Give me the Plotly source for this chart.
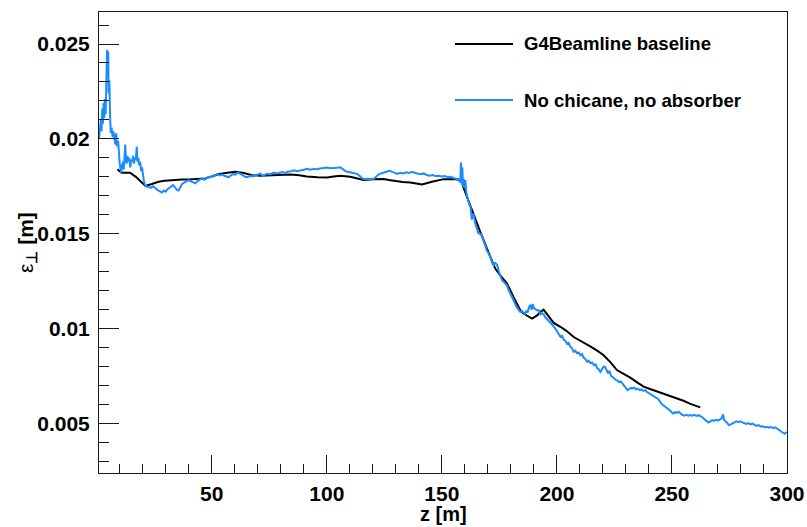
import plotly.graph_objects as go

# ---- G4Beamline baseline: transverse emittance along the channel ----
z_baseline = [9, 10.7, 14.5, 17, 19.5, 21.2, 24, 26.9, 29.5, 32.7, 37, 40, 44,
              47.2, 50, 52.8, 56, 60.2, 64, 67.5, 71.1, 76, 80, 84.1, 88, 91.4, 96, 100.1,
              103, 105.9, 110.2, 113, 116, 120.3, 124.7, 127, 130.5, 133, 136.3, 139, 141.4,
              145.7, 150.8, 156.6, 158.5, 159.5, 161, 162.4, 164.5, 166.7, 169, 171.1, 173.2,
              175.5, 178.3, 181, 184.1, 185.5, 187, 189.2, 191.4, 192.8, 194.2, 196.5, 198.6,
              201.5, 204, 207.3, 210.5, 214.5, 217.5, 220.3, 223.2, 226.1, 229, 231.9, 235,
              237.7, 240.5, 243.5, 246.5, 249.3, 252, 255, 258, 262.3]
eps_baseline = [0.0184, 0.01822, 0.01822, 0.01800, 0.01772, 0.01752,
                0.01762, 0.01774, 0.01780, 0.01784, 0.01786, 0.01786, 0.01788, 0.01792,
                0.01802, 0.01814, 0.01820, 0.01827, 0.01820, 0.01809, 0.01806, 0.01810,
                0.01812, 0.01813, 0.01808, 0.01802, 0.01798, 0.01797, 0.01802, 0.01806,
                0.01801, 0.01792, 0.01783, 0.01788, 0.01789, 0.01784, 0.01777, 0.01773,
                0.01770, 0.01764, 0.01760, 0.01774, 0.01788, 0.01788, 0.01780, 0.01740,
                0.01690, 0.01642, 0.01580, 0.01510, 0.01440, 0.01378, 0.01317, 0.01280,
                0.01238, 0.01170, 0.01097, 0.01080, 0.01068, 0.01053, 0.01070, 0.01088,
                0.01100, 0.01062, 0.01030, 0.01010, 0.00990, 0.00956, 0.00935, 0.00907,
                0.00884, 0.00860, 0.00824, 0.00782, 0.00762, 0.00742, 0.00716, 0.00695,
                0.00682, 0.00670, 0.00655, 0.00645, 0.00632, 0.00620, 0.00604, 0.00585]

# ---- No chicane, no absorber: (z [m], emittance [m]) ----
nochicane_pts = [
    (1.0, 0.0200), (1.4, 0.0206), (1.8, 0.0210), (2.1, 0.0204), (2.4, 0.0216), (2.7, 0.0208),
    (3.0, 0.0219), (3.3, 0.0211), (3.6, 0.0221), (3.9, 0.0213), (4.2, 0.0226), (4.5, 0.0247),
    (4.8, 0.0240), (5.0, 0.0246), (5.2, 0.0224), (5.5, 0.0231), (5.8, 0.0213), (6.1, 0.0203),
    (6.5, 0.0206), (6.9, 0.0201), (7.3, 0.0204), (7.7, 0.0199), (8.1, 0.0197), (8.5, 0.0203),
    (8.9, 0.0196), (9.3, 0.0199), (9.6, 0.0191), (10.0, 0.0187), (10.4, 0.0184), (10.7, 0.0182),
    (11.0, 0.0186), (11.4, 0.0188), (11.8, 0.0184), (12.1, 0.0192), (12.4, 0.0197), (12.7, 0.0189),
    (13.0, 0.0187), (13.4, 0.0191), (13.8, 0.0188), (14.2, 0.0190), (14.6, 0.0185), (15.0, 0.0189),
    (15.4, 0.0188), (15.8, 0.0191), (16.2, 0.0187), (16.6, 0.0190), (17.0, 0.0189), (17.4, 0.0196),
    (17.7, 0.0188), (18.1, 0.0190), (18.5, 0.0186), (18.9, 0.0188), (19.3, 0.0183), (19.7, 0.0185),
    (20.1, 0.0180), (20.5, 0.0178), (20.9, 0.0176), (21.4, 0.01752), (22.0, 0.01748), (22.6, 0.01746),
    (23.5, 0.01742), (24.5, 0.01750), (25.5, 0.01738), (26.5, 0.01730), (27.5, 0.01724), (28.4, 0.01718),
    (29.2, 0.01728), (30.0, 0.01722), (30.8, 0.01735), (31.6, 0.01742), (32.4, 0.01750), (33.2, 0.01756),
    (34.0, 0.01744), (34.8, 0.01732), (35.6, 0.01728), (36.3, 0.01748), (37.1, 0.01762), (38.0, 0.01770),
    (39.0, 0.01778), (40.0, 0.01783), (41.0, 0.01776), (42.0, 0.01770), (42.9, 0.01766), (43.8, 0.01778),
    (44.8, 0.01786), (45.8, 0.01792), (46.8, 0.01785), (47.8, 0.01795), (48.6, 0.01800), (49.4, 0.01798),
    (50.5, 0.01804), (51.5, 0.01810), (52.5, 0.01814), (53.5, 0.01808), (54.5, 0.01812), (55.5, 0.01806),
    (56.5, 0.01800), (57.3, 0.01798), (58.3, 0.01808), (59.3, 0.01815), (60.3, 0.01812), (61.2, 0.01822),
    (62.2, 0.01818), (63.3, 0.01808), (64.5, 0.01800), (65.6, 0.01798), (66.8, 0.01806), (68.0, 0.01802),
    (69.2, 0.01810), (70.3, 0.01812), (71.1, 0.01818), (72.0, 0.01806), (73.0, 0.01810), (74.2, 0.01816),
    (75.5, 0.01814), (76.9, 0.01823), (78.3, 0.01818), (79.5, 0.01822), (80.8, 0.01826), (82.0, 0.01821),
    (83.2, 0.01828), (84.5, 0.01830), (85.8, 0.01834), (87.0, 0.01830), (88.5, 0.01836), (90.0, 0.01838),
    (91.4, 0.01842), (92.8, 0.01838), (94.2, 0.01842), (95.7, 0.01840), (97.0, 0.01844), (98.5, 0.01846),
    (100.1, 0.01849), (101.5, 0.01846), (103.0, 0.01849), (104.5, 0.01848), (105.9, 0.01850), (107.2, 0.01838),
    (108.4, 0.01828), (109.6, 0.01826), (110.8, 0.01822), (112.0, 0.01820), (113.1, 0.01816), (114.2, 0.01806),
    (115.2, 0.01794), (116.2, 0.01788), (117.5, 0.01790), (118.8, 0.01786), (120.3, 0.01788), (121.4, 0.01800),
    (122.4, 0.01812), (123.5, 0.01818), (124.8, 0.01822), (126.0, 0.01826), (127.3, 0.01832), (128.5, 0.01826),
    (129.6, 0.01822), (130.7, 0.01816), (132.0, 0.01822), (133.2, 0.01818), (134.5, 0.01824), (135.8, 0.01820),
    (137.0, 0.01826), (138.3, 0.01820), (139.6, 0.01816), (140.9, 0.01814), (142.1, 0.01818), (143.4, 0.01810),
    (144.7, 0.01806), (146.0, 0.01810), (147.3, 0.01804), (148.6, 0.01806), (149.9, 0.01802), (151.2, 0.01804),
    (152.5, 0.01798), (153.7, 0.01800), (154.9, 0.01796), (156.0, 0.01790), (157.0, 0.01782), (157.6, 0.01786),
    (158.0, 0.01770), (158.3, 0.01875), (158.6, 0.01760), (158.9, 0.01850), (159.2, 0.01750), (159.5, 0.01790),
    (159.8, 0.01740), (160.2, 0.01783), (160.6, 0.01720), (160.9, 0.01695), (161.5, 0.01672), (162.0, 0.01652),
    (162.5, 0.01640), (163.0, 0.01575), (163.4, 0.01605), (163.8, 0.01598), (164.2, 0.01560), (164.6, 0.01552),
    (165.2, 0.01530), (165.8, 0.01505), (166.4, 0.01500), (167.0, 0.01498), (167.5, 0.01488), (168.2, 0.01460),
    (168.9, 0.01432), (169.6, 0.01410), (170.3, 0.01398), (171.1, 0.01378), (171.8, 0.01350), (172.5, 0.01334),
    (173.2, 0.01346), (174.0, 0.01338), (174.8, 0.01300), (175.5, 0.01272), (176.1, 0.01255), (176.8, 0.01248),
    (177.5, 0.01240), (178.3, 0.01228), (179.0, 0.01205), (179.7, 0.01185), (180.5, 0.01160), (181.2, 0.01140),
    (181.9, 0.01130), (182.6, 0.01112), (183.3, 0.01100), (184.1, 0.01088), (184.8, 0.01092), (185.5, 0.01082),
    (186.2, 0.01078), (186.8, 0.01095), (187.3, 0.01085), (187.9, 0.01115), (188.5, 0.01125), (189.0, 0.01100),
    (189.5, 0.01130), (190.0, 0.01108), (190.7, 0.01102), (191.4, 0.01096), (192.1, 0.01098), (192.8, 0.01076),
    (193.5, 0.01082), (194.3, 0.01075), (195.0, 0.01060), (195.7, 0.01052), (196.4, 0.01042), (197.1, 0.01034),
    (197.9, 0.01022), (198.6, 0.01012), (199.3, 0.01002), (200.0, 0.00988), (200.8, 0.00972), (201.5, 0.00958),
    (202.2, 0.00962), (203.0, 0.00942), (203.7, 0.00935), (204.4, 0.00921), (205.1, 0.00925), (205.8, 0.00905),
    (206.5, 0.00898), (207.3, 0.00878), (208.0, 0.00884), (208.8, 0.00870), (209.5, 0.00874), (210.2, 0.00860),
    (210.9, 0.00866), (211.6, 0.00848), (212.4, 0.00840), (213.1, 0.00826), (213.8, 0.00832), (214.6, 0.00818),
    (215.3, 0.00822), (216.0, 0.00808), (216.8, 0.00812), (217.5, 0.00792), (218.2, 0.00785), (218.9, 0.00772),
    (219.6, 0.00786), (220.3, 0.00800), (221.0, 0.00798), (221.6, 0.00776), (222.2, 0.00765), (222.8, 0.00778),
    (223.5, 0.00752), (224.2, 0.00745), (224.9, 0.00736), (225.6, 0.00730), (226.4, 0.00726), (227.1, 0.00718),
    (227.8, 0.00722), (228.6, 0.00708), (229.3, 0.00696), (230.0, 0.00684), (230.7, 0.00676), (231.4, 0.00682),
    (232.1, 0.00688), (232.8, 0.00684), (233.6, 0.00690), (234.4, 0.00680), (235.2, 0.00684), (236.0, 0.00676),
    (236.8, 0.00680), (237.6, 0.00672), (238.4, 0.00676), (239.2, 0.00666), (240.0, 0.00660), (240.8, 0.00654),
    (241.6, 0.00650), (242.4, 0.00646), (243.2, 0.00640), (244.0, 0.00630), (244.9, 0.00614), (245.7, 0.00600),
    (246.5, 0.00594), (247.3, 0.00588), (248.1, 0.00580), (248.9, 0.00572), (249.7, 0.00562), (250.5, 0.00552),
    (251.3, 0.00560), (252.1, 0.00556), (252.9, 0.00562), (253.7, 0.00552), (254.5, 0.00546), (255.3, 0.00542),
    (256.2, 0.00546), (257.1, 0.00542), (258.0, 0.00545), (258.9, 0.00541), (259.8, 0.00546), (260.7, 0.00540),
    (261.6, 0.00544), (262.5, 0.00538), (263.4, 0.00532), (264.3, 0.00520), (265.1, 0.00512), (265.9, 0.00506),
    (266.7, 0.00512), (267.5, 0.00518), (268.3, 0.00514), (269.1, 0.00520), (269.9, 0.00516), (270.7, 0.00522),
    (271.5, 0.00526), (272.2, 0.00548), (272.6, 0.00520), (273.3, 0.00512), (274.0, 0.00500), (274.8, 0.00492),
    (275.6, 0.00496), (276.4, 0.00502), (277.2, 0.00506), (278.0, 0.00512), (278.8, 0.00508), (279.6, 0.00512),
    (280.5, 0.00506), (281.4, 0.00502), (282.3, 0.00498), (283.2, 0.00502), (284.1, 0.00496), (285.0, 0.00500),
    (285.9, 0.00492), (286.8, 0.00488), (287.7, 0.00492), (288.6, 0.00484), (289.5, 0.00486), (290.4, 0.00480),
    (291.3, 0.00483), (292.2, 0.00478), (293.1, 0.00482), (294.0, 0.00476), (294.9, 0.00480), (295.8, 0.00470),
    (296.6, 0.00466), (297.4, 0.00458), (298.2, 0.00450), (299.0, 0.00446), (299.8, 0.00456),
]
z_nochicane = [p[0] for p in nochicane_pts]
eps_nochicane = [p[1] for p in nochicane_pts]

series_names = ["G4Beamline baseline", "No chicane, no absorber"]
series_colors = ["#000000", "#1a8cff"]

x_tickvals = [50, 100, 150, 200, 250, 300]
x_ticktext = ["50", "100", "150", "200", "250", "300"]
y_tickvals = [0.005, 0.01, 0.015, 0.02, 0.025]
y_ticktext = ["0.005", "0.01", "0.015", "0.02", "0.025"]

W, H = 807, 527
M_L, M_R, M_T, M_B = 99, 20, 12, 54
PW, PH = W - M_L - M_R, H - M_T - M_B


def px_x(px):
    return (px - M_L) / PW


def px_y(py):
    return (H - M_B - py) / PH


FONT = "Liberation Sans, Arial, Helvetica, sans-serif"
AXIS_COLOR = "#1a1a1a"

fig = go.Figure()
fig.add_trace(go.Scatter(x=z_baseline, y=eps_baseline, mode="lines", name=series_names[0],
                         line=dict(color=series_colors[0], width=2), showlegend=False))
fig.add_trace(go.Scatter(x=z_nochicane, y=eps_nochicane, mode="lines", name=series_names[1],
                         line=dict(color=series_colors[1], width=2), showlegend=False))

axis_common = dict(
    showgrid=False, zeroline=False, showline=True, mirror=True, automargin=False,
    linecolor=AXIS_COLOR, linewidth=1,
    ticks="inside", tickcolor=AXIS_COLOR, tickwidth=1,
    tickmode="array",
    tickfont=dict(family=FONT, size=21, color="#000000", weight="bold"),
)

fig.update_xaxes(
    **axis_common, range=[1, 300], tickvals=x_tickvals, ticktext=x_ticktext, ticklen=18,
    ticklabelstandoff=2,
    minor=dict(ticks="inside", tickmode="linear", tick0=0, dtick=10, ticklen=9,
               tickcolor=AXIS_COLOR, tickwidth=1),
)
fig.update_yaxes(
    **axis_common, range=[0.002395, 0.026687], tickvals=y_tickvals, ticktext=y_ticktext,
    ticklen=20, ticklabelstandoff=4,
    minor=dict(ticks="inside", tickmode="linear", tick0=0, dtick=0.001, ticklen=10,
               tickcolor=AXIS_COLOR, tickwidth=1),
)

annotations = [
    dict(text="<b>z [m]</b>", x=0.5, y=px_y(514), xref="paper", yref="paper",
         xanchor="center", yanchor="middle", showarrow=False,
         font=dict(family=FONT, size=20, color="#000000")),
    dict(text="ε<sub><b>⊥</b></sub><b> [m]</b>", x=px_x(27), y=px_y(243), xref="paper", yref="paper",
         xanchor="center", yanchor="middle", showarrow=False, textangle=-90,
         font=dict(family=FONT, size=21, color="#000000")),
]

# Legend: sample line plus label for each series
legend_rows = [44, 100]
shapes = []
for name, color, row in zip(series_names, series_colors, legend_rows):
    shapes.append(dict(type="line", xref="paper", yref="paper",
                       x0=px_x(455), x1=px_x(513), y0=px_y(row), y1=px_y(row),
                       line=dict(color=color, width=2)))
    annotations.append(dict(text=f"<b>{name}</b>", x=px_x(522), y=px_y(row),
                            xref="paper", yref="paper", xanchor="left", yanchor="middle",
                            showarrow=False,
                            font=dict(family=FONT, size=18.6, color="#000000")))

fig.update_layout(
    width=W, height=H,
    margin=dict(l=M_L, r=M_R, t=M_T, b=M_B),
    paper_bgcolor="#ffffff", plot_bgcolor="#ffffff",
    annotations=annotations, shapes=shapes,
    showlegend=False,
)

fig.write_html("out.html")
